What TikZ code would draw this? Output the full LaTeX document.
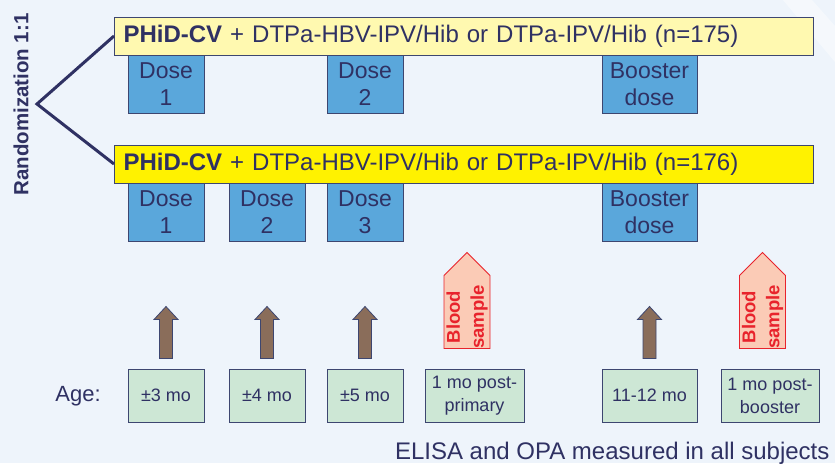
\documentclass[tikz,border=0pt]{standalone}
\usepackage{fontspec}
\setmainfont{Liberation Sans}
\usetikzlibrary{shapes.symbols}

\definecolor{bgblue}{HTML}{EEF4FB}
\definecolor{ink}{HTML}{2F3163}
\definecolor{edge}{HTML}{3D4670}
\definecolor{paleyellow}{HTML}{FFF9B0}
\definecolor{brightyellow}{HTML}{FFF200}
\definecolor{doseblue}{HTML}{5AA7DB}
\definecolor{agegreen}{HTML}{CDE7D5}
\definecolor{armbrown}{HTML}{8A6D5A}
\definecolor{bloodpink}{HTML}{FBCBB6}
\definecolor{bloodred}{HTML}{E8232C}

\begin{document}
\begin{tikzpicture}[x=1pt, y=-1pt,
  arm/.style = {draw=edge, line width=1pt, anchor=west, text width=681pt, align=left,
    minimum height=38pt, inner xsep=9pt, text=ink, font=\fontsize{24}{28}\selectfont},
  dose/.style = {draw=edge, line width=1pt, fill=doseblue, anchor=north, align=center,
    minimum width=76pt, minimum height=58pt, inner sep=0pt, text=ink,
    font=\fontsize{23}{27}\selectfont},
  age/.style = {draw=edge, line width=1pt, fill=agegreen, align=center,
    minimum width=76pt, minimum height=53pt, inner sep=0pt, text=ink,
    font=\fontsize{18}{23}\selectfont},
  shot/.style = {draw=edge, line width=0.8pt, fill=armbrown},
  blood/.style = {signal, signal to=east, draw=bloodred, line width=0.8pt, fill=bloodpink,
    rotate=90, minimum width=96pt, minimum height=46pt, inner sep=0pt},
  bloodtext/.style = {rotate=90, align=center, text=bloodred,
    font=\bfseries\fontsize{18.5}{24}\selectfont}]

\useasboundingbox (0,0) rectangle (835,463);
\fill[bgblue] (0,0) rectangle (835,463);
\fill[white, opacity=0.45] (783,0) -- (812,0) -- (835,26) -- (835,62) -- cycle;

% randomization
\node[rotate=90, text=ink, font=\bfseries\fontsize{20.5}{24}\selectfont] (rand) at (21,104.5) {Randomization 1:1};
\coordinate (split) at (37,104);

% study arms
\node[arm, fill=paleyellow] (armA) at (114,36) {\textbf{PHiD-CV} + DTPa-HBV-IPV/Hib or DTPa-IPV/Hib (n=175)};
\node[arm, fill=brightyellow] (armB) at (114,164) {\textbf{PHiD-CV} + DTPa-HBV-IPV/Hib or DTPa-IPV/Hib (n=176)};

\draw[ink, line width=3pt] (armA.west) -- (split) -- (armB.west);

% doses, 2+1 arm
\node[dose] (a1) at (166,55) {Dose\\1};
\node[dose] (a2) at (365,55) {Dose\\2};
\node[dose, minimum width=95pt] (aB) at (649.5,55) {Booster\\dose};

% doses, 3+1 arm
\node[dose] (b1) at (166,183) {Dose\\1};
\node[dose] (b2) at (267,183) {Dose\\2};
\node[dose] (b3) at (365,183) {Dose\\3};
\node[dose, minimum width=95pt] (bB) at (649.5,183) {Booster\\dose};

% ages
\node[text=ink, font=\fontsize{22}{26}\selectfont] (agelabel) at (78,396) {Age:};
\node[age] (m3) at (166,395.5) {\textpm3 mo};
\node[age] (m4) at (267,395.5) {\textpm4 mo};
\node[age] (m5) at (365,395.5) {\textpm5 mo};
\node[age, minimum width=99pt] (post1) at (474.5,395.5) {1 mo post-\\primary};
\node[age, minimum width=95pt] (m11) at (649.5,395.5) {11-12 mo};
\node[age, minimum width=98pt] (post2) at (770,395.5) {1 mo post-\\booster};

% vaccinations
\foreach \m in {m3,m4,m5,m11}
  \filldraw[shot, shift={(\m.north)}] (-6.5,-10) -- (-6.5,-49) -- (-12,-49) -- (0,-62)
    -- (12,-49) -- (6.5,-49) -- (6.5,-10) -- cycle;

% blood samples
\node[blood] (bs1) at (467,312) {};
\node[blood] (bs2) at (762.5,312) {};
\node[bloodtext] (bt1) at ([yshift=-5pt]bs1.center) {Blood\\sample};
\node[bloodtext] (bt2) at ([yshift=-5pt]bs2.center) {Blood\\sample};

\node[anchor=base east, text=ink, font=\fontsize{24}{28}\selectfont] (note) at (833,459) {ELISA and OPA measured in all subjects};

\end{tikzpicture}
\end{document}
